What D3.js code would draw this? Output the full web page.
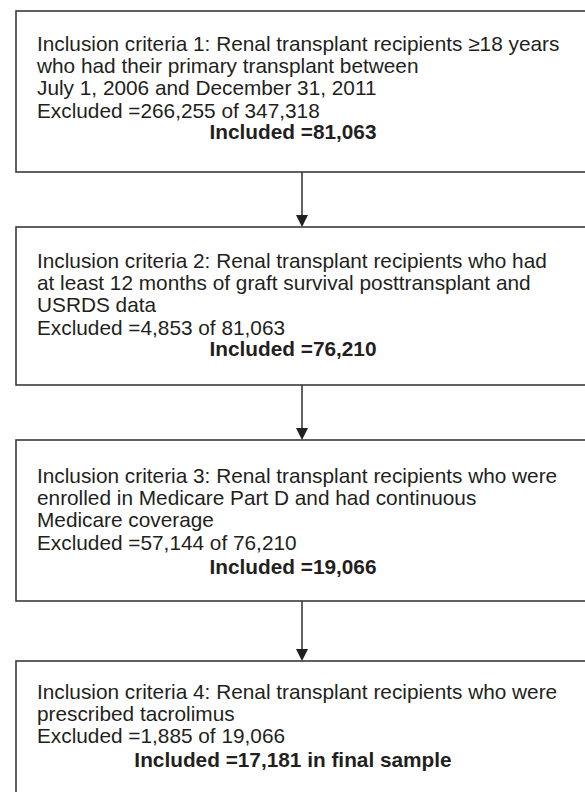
<!DOCTYPE html>
<html>
<head>
<meta charset="utf-8">
<script src="https://cdn.jsdelivr.net/npm/d3@7"></script>
<style>
  html, body { margin: 0; padding: 0; background: #fff; }
  svg { display: block; }
</style>
</head>
<body>
<div id="chart"></div>
<script>
// ---- data ----
const criteriaLines = [
  ["Inclusion criteria 1: Renal transplant recipients \u226518 years",
   "who had their primary transplant between",
   "July 1, 2006 and December 31, 2011"],
  ["Inclusion criteria 2: Renal transplant recipients who had",
   "at least 12 months of graft survival posttransplant and",
   "USRDS data"],
  ["Inclusion criteria 3: Renal transplant recipients who were",
   "enrolled in Medicare Part D and had continuous",
   "Medicare coverage"],
  ["Inclusion criteria 4: Renal transplant recipients who were",
   "prescribed tacrolimus"]
];
const excludedCounts = [266255, 4853, 57144, 1885];
const ofTotals = [347318, 81063, 76210, 19066];
const includedCounts = [81063, 76210, 19066, 17181];
const includedSuffix = ["", "", "", " in final sample"];

// ---- layout ----
const W = 585, H = 792;
const boxTop = [11, 227, 440, 661];
const boxBottom = [172, 385, 601, 820];
const boxLeft = 16, boxRight = 590;
const arrowX = 302;
const textX = 37;
const firstBaseline = [40, 41, 43, 38];
const lineStep = 22.2;
const boldGap = [21.5, 21.5, 24, 24];
const boldCenter = 293;
const fontSize = 20.8;
const fmt = d3.format(",");
const ink = "#231f20";
const stroke = "#3a3a3a";

const svg = d3.select("#chart").append("svg")
  .attr("width", W).attr("height", H);

const boxes = svg.selectAll("g.box")
  .data(criteriaLines.map((lines, i) => ({
    lines, i,
    excl: excludedCounts[i], of: ofTotals[i],
    inc: includedCounts[i], suffix: includedSuffix[i]
  })))
  .join("g").attr("class", "box");

boxes.append("rect")
  .attr("x", boxLeft)
  .attr("y", d => boxTop[d.i])
  .attr("width", boxRight - boxLeft)
  .attr("height", d => boxBottom[d.i] - boxTop[d.i])
  .attr("fill", "none")
  .attr("stroke", stroke)
  .attr("stroke-width", 1.6);

boxes.each(function(d) {
  const g = d3.select(this);
  const plain = d.lines.concat([`Excluded =${fmt(d.excl)} of ${fmt(d.of)}`]);
  const y0 = boxTop[d.i] + firstBaseline[d.i];
  g.selectAll("text.plain")
    .data(plain)
    .join("text")
    .attr("class", "plain")
    .attr("x", textX)
    .attr("y", (t, j) => y0 + j * lineStep)
    .attr("font-family", "'Liberation Sans', Arial, sans-serif")
    .attr("font-size", fontSize)
    .attr("fill", ink)
    .text(t => t);
  g.append("text")
    .attr("x", boldCenter)
    .attr("y", y0 + (plain.length - 1) * lineStep + boldGap[d.i])
    .attr("text-anchor", "middle")
    .attr("font-family", "'Liberation Sans', Arial, sans-serif")
    .attr("font-size", fontSize)
    .attr("font-weight", "bold")
    .attr("fill", ink)
    .text(`Included =${fmt(d.inc)}${d.suffix}`);
});

// arrows
const arrows = d3.range(boxTop.length - 1).map(i => ({ y1: boxBottom[i], y2: boxTop[i + 1] }));
const ag = svg.selectAll("g.arrow").data(arrows).join("g").attr("class", "arrow");
ag.append("line")
  .attr("x1", arrowX).attr("x2", arrowX)
  .attr("y1", d => d.y1).attr("y2", d => d.y2 - 10)
  .attr("stroke", stroke).attr("stroke-width", 1.6);
ag.append("path")
  .attr("d", d => `M${arrowX - 6},${d.y2 - 12} L${arrowX + 6},${d.y2 - 12} L${arrowX},${d.y2} Z`)
  .attr("fill", ink);
</script>
</body>
</html>
